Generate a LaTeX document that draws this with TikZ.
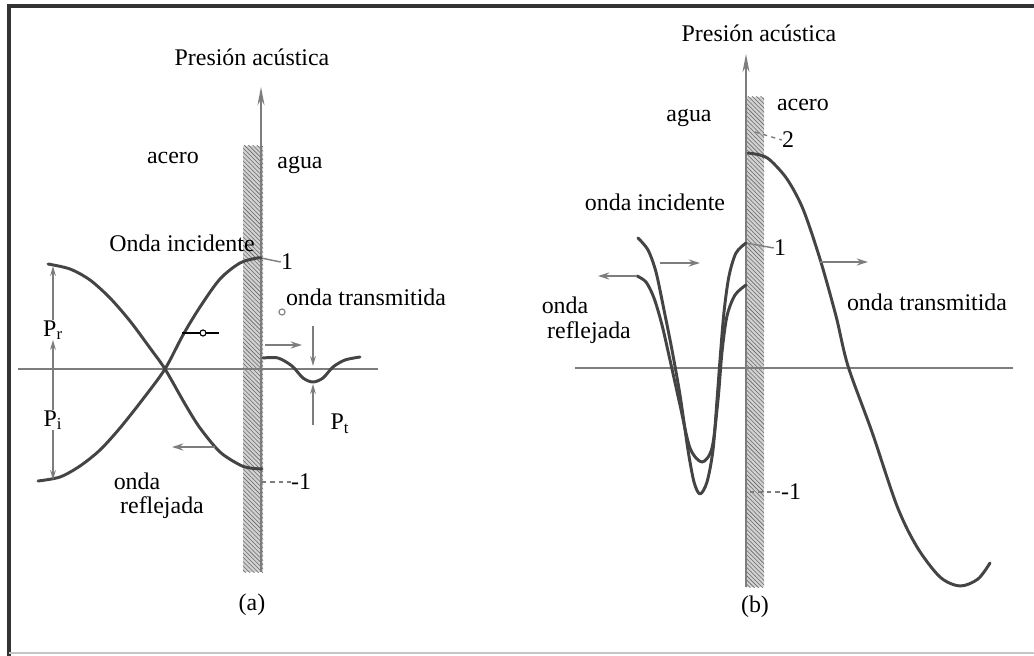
\documentclass[tikz,border=0pt]{standalone}
\usepackage{fontspec}
\setmainfont{Liberation Serif}
\usepackage{xcolor}
\usepackage{tikz}
\usetikzlibrary{arrows.meta,patterns,calc}
\definecolor{wavegray}{RGB}{68, 68, 68}
\definecolor{axisgray}{RGB}{125, 125, 125}
\definecolor{wallgray}{RGB}{210, 210, 210}
\definecolor{hatchgray}{RGB}{105, 105, 105}

\begin{document}
\begin{tikzpicture}[x=0.025cm, y=-0.025cm, >=Stealth,
    txt/.style={font=\fontsize{17}{20}\selectfont, inner sep=0pt},
    wave/.style={draw=wavegray, line width=2.1pt, line cap=round, line join=round},
    axisline/.style={draw=axisgray, line width=1.3pt},
    dirarrow/.style={draw=axisgray, line width=1.6pt, -{Stealth[length=8pt,width=5pt]}},
    wallbar/.style={preaction={fill=wallgray}, pattern=north west lines, pattern color=hatchgray},
    scaletick/.style={draw=axisgray, line width=1pt}]
        \useasboundingbox (0,0) rectangle (1034,656);
        % Frame
        \draw[line width=2.2pt, draw=black!80] (9,656) -- (9,6) -- (1034,6);
        \draw[line width=0.8pt, draw=gray!45] (9,653) -- (1034,653);

        % Walls
        \path[wallbar] (243,146) rectangle (263,572);
        \path[wallbar] (746,97) rectangle (764,587);

        % Panel (a): steel -> water
        \node[txt] (tita) at (252,57) {Presión acústica};
        \node[txt] (aceroa) at (173,158) {acero};
        \node[txt] (aguaa) at (300,165) {agua};
        \node[txt] (inca) at (182,243) {Onda incidente};
        \node[txt] (unoa) at (287,262) {1};
        \node[txt] (transa) at (366,297) {onda transmitida};
        \node[txt] (Pr) at (53,330) {P\textsubscript{r}};
        \node[txt] (Pi) at (53,420) {P\textsubscript{i}};
        \node[txt] (Pt) at (340,424) {P\textsubscript{t}};
        \node[txt] (refa1) at (137,481) {onda};
        \node[txt] (refa2) at (162,508) {reflejada};
        \node[txt] (menosa) at (301,482) {-1};
        \node[txt] (capa) at (252,605) {(a)};

        \coordinate (abot) at (261,572);
        \coordinate (atop) at (261,87);
        \draw[axisline, -{Stealth[length=13pt,width=5pt]}] (abot) -- (atop);
        \coordinate (aleft) at (18,369);
        \coordinate (aright) at (378,369);
        \draw[axisline] (aleft) -- (aright);

        % scale ticks (a)
        \coordinate (aone) at (261,258);
        \coordinate (amone) at (262,482);
        \draw[scaletick] (aone) -- (unoa.west);
        \draw[scaletick, dashed] (amone) -- (menosa.west);

        % incident and reflected waves (a)
        \draw[wave] plot[smooth] coordinates {(38,481) (60,477) (80,466) (100,450) (120,428) (143,399) (165,369) (183,335) (200,307) (220,279) (240,263) (257,258) (261,258)};
        \draw[wave] plot[smooth] coordinates {(48,264) (70,269) (90,280) (110,298) (130,321) (150,348) (165,369) (185,404) (200,428) (220,452) (240,465) (250,468) (262,469)};
        \coordinate (rtail) at (215,447);
        \coordinate (rhead) at (172,447);
        \draw[dirarrow] (rtail) -- (rhead);
        \coordinate (mk1) at (182,333);
        \coordinate (mk2) at (219,333);
        \draw[line width=1.5pt] (mk1) -- (mk2);
        \draw[line width=0.8pt, fill=white] (203,333) circle (3);
        \draw[axisgray, line width=0.8pt] (282,312) circle (3);

        % transmitted wave (a)
        \draw[wave] plot[smooth] coordinates {(263,358) (278,358) (292,366) (303,378) (313,382) (323,378) (333,367) (345,360) (360,357)};
        \coordinate (ttail) at (265,345);
        \coordinate (thead) at (302,345);
        \draw[dirarrow] (ttail) -- (thead);
        \coordinate (pttop) at (313,326);
        \coordinate (ptmid) at (313,366);
        \coordinate (ptlow) at (313,384);
        \coordinate (ptbot) at (313,425);
        \draw[axisline, -{Stealth[length=7pt,width=4pt]}] (pttop) -- (ptmid);
        \draw[axisline, -{Stealth[length=7pt,width=4pt]}] (ptbot) -- (ptlow);

        % amplitude arrows P_r, P_i
        \coordinate (prtop) at (53,266);
        \coordinate (pibot) at (53,480);
        \draw[axisline, -{Stealth[length=7pt,width=4pt]}] (Pr.north) -- (prtop);
        \draw[axisline, -{Stealth[length=7pt,width=4pt]}] (Pi.north) -- (Pr.south);
        \draw[axisline, -{Stealth[length=7pt,width=4pt]}] (Pi.south) -- (pibot);

        % Panel (b): water -> steel
        \node[txt] (titb) at (759,33) {Presión acústica};
        \node[txt] (aguab) at (689,118) {agua};
        \node[txt] (acerob) at (803,105) {acero};
        \node[txt] (dosb) at (788,140) {2};
        \node[txt] (incb) at (655,202) {onda incidente};
        \node[txt] (unob) at (780,248) {1};
        \node[txt] (refb1) at (565,305) {onda};
        \node[txt] (refb2) at (589,333) {reflejada};
        \node[txt] (transb) at (927,302) {onda transmitida};
        \node[txt] (menosb) at (791,492) {-1};
        \node[txt] (capb) at (755,607) {(b)};

        \coordinate (bbot) at (746,587);
        \coordinate (btop) at (746,54);
        \draw[axisline, -{Stealth[length=13pt,width=5pt]}] (bbot) -- (btop);
        \coordinate (bleft) at (575,368);
        \coordinate (bright) at (1013,368);
        \draw[axisline] (bleft) -- (bright);

        % scale ticks (b)
        \coordinate (bone) at (746,243);
        \coordinate (btwo) at (755,132);
        \coordinate (bmone) at (750,492);
        \draw[scaletick] (bone) -- (unob.west);
        \draw[scaletick, dashed] (btwo) -- (dosb.west);
        \draw[scaletick, dashed] (bmone) -- (menosb.west);

        % incident and reflected pulses (b)
        \draw[wave] plot[smooth] coordinates {(638,238) (648,250) (656,272) (664,310) (672,350) (680,395) (688,450) (694,482) (700,494) (707,482) (713,450) (717,400) (720,360) (724,312) (729,276) (736,253) (746,243)};
        \draw[wave] plot[smooth] coordinates {(637,276) (646,282) (654,298) (662,325) (670,360) (680,405) (690,448) (702,462) (712,448) (718,400) (722,352) (727,316) (735,295) (746,285)};
        \coordinate (itail) at (660,263);
        \coordinate (ihead) at (700,263);
        \draw[dirarrow] (itail) -- (ihead);
        \coordinate (rbtail) at (637,276);
        \coordinate (rbhead) at (598,276);
        \draw[dirarrow] (rbtail) -- (rbhead);

        % transmitted pulse (b)
        \draw[wave] plot[smooth] coordinates {(748,153) (760,155) (770,160) (787,179) (803,209) (820,259) (836,316) (848,366) (872,432) (897,506) (917,547) (940,577) (960,586) (978,579) (990,563)};
        \coordinate (tbtail) at (820,262);
        \coordinate (tbhead) at (868,262);
        \draw[dirarrow] (tbtail) -- (tbhead);
    \end{tikzpicture}
\end{document}
